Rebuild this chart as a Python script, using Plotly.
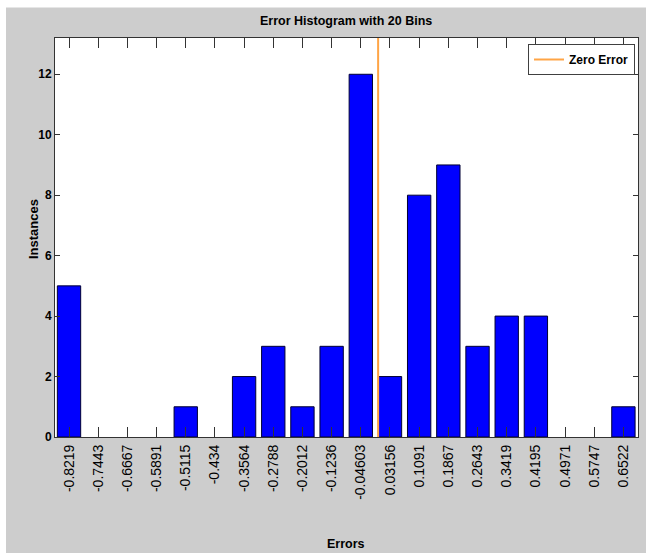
import plotly.graph_objects as go

# ---- data ----
bin_centers = [-0.8219, -0.7443, -0.6667, -0.5891, -0.5115, -0.434, -0.3564, -0.2788,
               -0.2012, -0.1236, -0.04603, 0.03156, 0.1091, 0.1867, 0.2643, 0.3419,
               0.4195, 0.4971, 0.5747, 0.6522]
tick_labels = ["-0.8219", "-0.7443", "-0.6667", "-0.5891", "-0.5115", "-0.434", "-0.3564",
               "-0.2788", "-0.2012", "-0.1236", "-0.04603", "0.03156", "0.1091", "0.1867",
               "0.2643", "0.3419", "0.4195", "0.4971", "0.5747", "0.6522"]
instances = [5, 0, 0, 0, 1, 0, 2, 3, 1, 3, 12, 2, 8, 9, 3, 4, 4, 0, 0, 1]
zero_error_x = [0, 0]
y_ticks = [0, 2, 4, 6, 8, 10, 12]
y_max = 13.2

W, H = 646, 553
ML, MR, MT, MB = 55, 8, 38, 116
PW, PH = W - ML - MR, H - MT - MB

bin_w = (bin_centers[-1] - bin_centers[0]) / (len(bin_centers) - 1)
x_range = [bin_centers[0] - 0.48 * bin_w, bin_centers[-1] + 0.5 * bin_w]

SANS = "Liberation Sans, Arial, sans-serif"


def px_x(px):
    return (px - ML) / PW


def px_y(py):
    return (H - MB - py) / PH


fig = go.Figure()
fig.add_trace(go.Bar(
    x=bin_centers, y=instances, width=bin_w * 0.8,
    marker=dict(color="#0000FF",
                line=dict(color="#000033", width=[1 if v > 0 else 0 for v in instances])),
    showlegend=False, hoverinfo="x+y",
))
fig.add_trace(go.Scatter(
    x=zero_error_x, y=[0, y_max], mode="lines", name="Zero Error",
    line=dict(color="rgb(255,165,70)", width=2),
))

fig.update_layout(
    width=W, height=H,
    margin=dict(l=ML, r=MR, t=MT, b=MB, pad=0),
    paper_bgcolor="#CDCDCD",
    plot_bgcolor="white",
    showlegend=True,
    legend=dict(
        x=px_x(635), y=px_y(44), xanchor="right", yanchor="top",
        bgcolor="white", bordercolor="#404040", borderwidth=1,
        font=dict(family=SANS, size=12, color="black", weight="bold"),
        itemwidth=30, tracegroupgap=0,
    ),
    shapes=[
        dict(type="rect", xref="paper", yref="paper", layer="below",
             x0=px_x(0), x1=px_x(W), y0=px_y(7.5), y1=px_y(0),
             fillcolor="white", line=dict(width=0)),
        dict(type="rect", xref="paper", yref="paper", layer="below",
             x0=px_x(0), x1=px_x(6), y0=px_y(H), y1=px_y(0),
             fillcolor="white", line=dict(width=0)),
    ],
    annotations=[
        dict(text="<b>Error Histogram with 20 Bins</b>", xref="paper", yref="paper",
             x=px_x(346), y=px_y(21), xanchor="center", yanchor="middle", showarrow=False,
             font=dict(family=SANS, size=12.5, color="black")),
        dict(text="<b>Errors</b>", xref="paper", yref="paper",
             x=px_x(346), y=px_y(544), xanchor="center", yanchor="middle", showarrow=False,
             font=dict(family=SANS, size=12.5, color="black")),
        dict(text="<b>Instances</b>", xref="paper", yref="paper", textangle=-90,
             x=px_x(33), y=px_y(229), xanchor="center", yanchor="middle", showarrow=False,
             font=dict(family=SANS, size=13, color="black")),
    ],
)

fig.update_xaxes(
    range=x_range, tickmode="array", tickvals=bin_centers, ticktext=tick_labels,
    tickangle=-90, ticks="inside", ticklen=10, tickcolor="#333333", tickwidth=1,
    showline=True, linecolor="#333333", linewidth=1, mirror="ticks",
    showgrid=False, zeroline=False,
    tickfont=dict(family=SANS, size=14, color="black"),
    ticklabelstandoff=1,
)
fig.update_yaxes(
    range=[0, y_max], tickmode="array", tickvals=y_ticks,
    ticks="inside", ticklen=5, tickcolor="#333333", tickwidth=1,
    showline=True, linecolor="#333333", linewidth=1, mirror="ticks",
    showgrid=False, zeroline=False,
    tickfont=dict(family=SANS, size=12, color="black", weight="bold"),
)

fig.write_html(
    "out.html",
    config={"displayModeBar": False},
    post_script="document.body.style.margin='0';document.body.style.overflow='hidden';",
)
